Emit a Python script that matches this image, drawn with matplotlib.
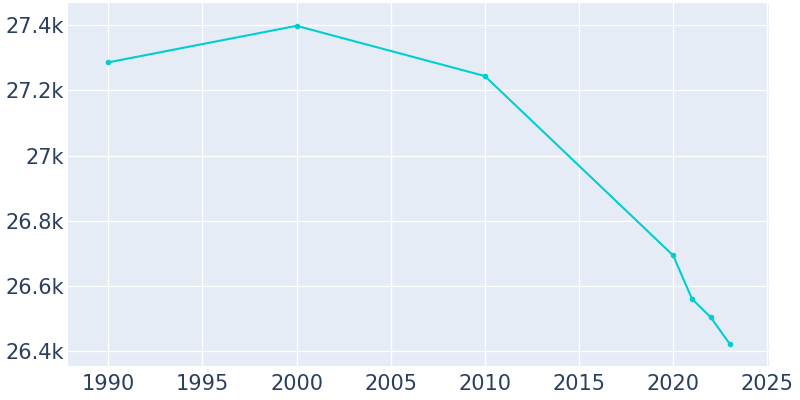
import matplotlib
matplotlib.use("Agg")
import matplotlib.pyplot as plt
from matplotlib.ticker import FuncFormatter

# Population by year
years = [1990, 2000, 2010, 2020, 2021, 2022, 2023]
population = [27286, 27398, 27244, 26694, 26561, 26504, 26423]

x_ticks = [1990, 1995, 2000, 2005, 2010, 2015, 2020, 2025]
y_ticks = [26400, 26600, 26800, 27000, 27200, 27400]


def fmt_k(v, pos):
    s = f"{v / 1000:.1f}".rstrip("0").rstrip(".")
    return s + "k"


fig = plt.figure(figsize=(8, 4), dpi=100)
ax = fig.add_axes([0.085, 0.085, 0.876, 0.9075])
ax.set_facecolor("#E5ECF6")

ax.plot(years, population, color="#00CED1", linewidth=1.5,
        marker="o", markersize=3, zorder=3)

ax.set_xlim(1987.86, 2025.08)
ax.set_ylim(26355, 27468)
ax.set_xticks(x_ticks)
ax.set_yticks(y_ticks)
ax.yaxis.set_major_formatter(FuncFormatter(fmt_k))

ax.grid(True, color="white", linewidth=1)
ax.set_axisbelow(True)
for s in ax.spines.values():
    s.set_visible(False)
ax.tick_params(length=0, labelsize=15, labelcolor="#2A3F5F")
ax.tick_params(axis="x", pad=6)
ax.tick_params(axis="y", pad=3)

fig.savefig("out.png", dpi=100)
